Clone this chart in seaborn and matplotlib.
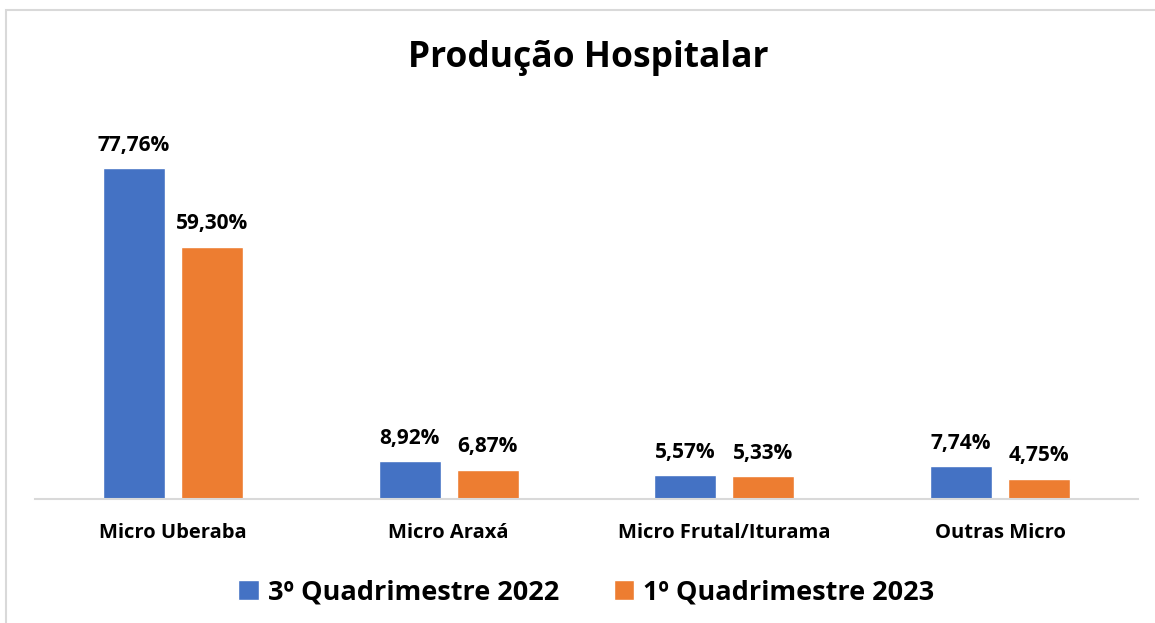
import pandas as pd
import seaborn as sns
import matplotlib.pyplot as plt
from matplotlib.patches import Rectangle

categories = ['Micro Uberaba', 'Micro Araxá', 'Micro Frutal/Iturama', 'Outras Micro']
series_names = ['3º Quadrimestre 2022', '1º Quadrimestre 2023']
q3_2022 = [77.76, 8.92, 5.57, 7.74]
q1_2023 = [59.30, 6.87, 5.33, 4.75]
colors = ['#4472C4', '#ED7D31']

df = pd.DataFrame({
    'Região': categories * 2,
    'Período': [series_names[0]] * 4 + [series_names[1]] * 4,
    'Valor': q3_2022 + q1_2023,
})

sns.set_theme(style='white')
plt.rcParams['font.family'] = ['Open Sans', 'DejaVu Sans']
plt.rcParams['text.color'] = 'black'
plt.rcParams['xtick.color'] = 'black'

fig = plt.figure(figsize=(11.55, 6.23), dpi=100)
fig.patches.append(Rectangle((6 / 1155, -0.1), 1.2, 1 - 10 / 623 + 0.1,
                             transform=fig.transFigure, fill=False,
                             edgecolor='#D9D9D9', linewidth=1.5))
ax = fig.add_axes([35 / 1155, 1 - 499 / 623, (1138 - 35) / 1155, 383 / 623])

sns.barplot(data=df, x='Região', y='Valor', hue='Período', palette=colors,
            width=0.565, gap=0.205, ax=ax, saturation=1, legend=True)

for cont in ax.containers:
    ax.bar_label(cont, labels=[f'{v:.2f}%'.replace('.', ',') for v in cont.datavalues],
                 padding=9, fontsize=15, fontweight='bold', color='black')

ax.set_ylim(0, 90)
ax.set_xlim(-0.5, 3.5)
ax.set_xlabel('')
ax.set_ylabel('')
ax.set_yticks([])
ax.tick_params(axis='x', length=0, pad=17, labelsize=14.5, labelcolor='black')
for lab in ax.get_xticklabels():
    lab.set_fontweight('bold')
for side in ['top', 'left', 'right']:
    ax.spines[side].set_visible(False)
ax.spines['bottom'].set_color('#D9D9D9')
ax.spines['bottom'].set_linewidth(1.5)

fig.text(588 / 1155, 1 - 58 / 623, 'Produção Hospitalar', ha='center', va='center',
         fontsize=25.5, fontweight='bold', color='black')

ax.legend(loc='center', bbox_to_anchor=(0.5, -0.245), ncol=2, frameon=False,
          prop={'size': 19.5, 'weight': 'bold'}, handlelength=0.75, handleheight=0.75,
          handletextpad=0.35, columnspacing=2.0)

fig.savefig('out.png', dpi=100)
